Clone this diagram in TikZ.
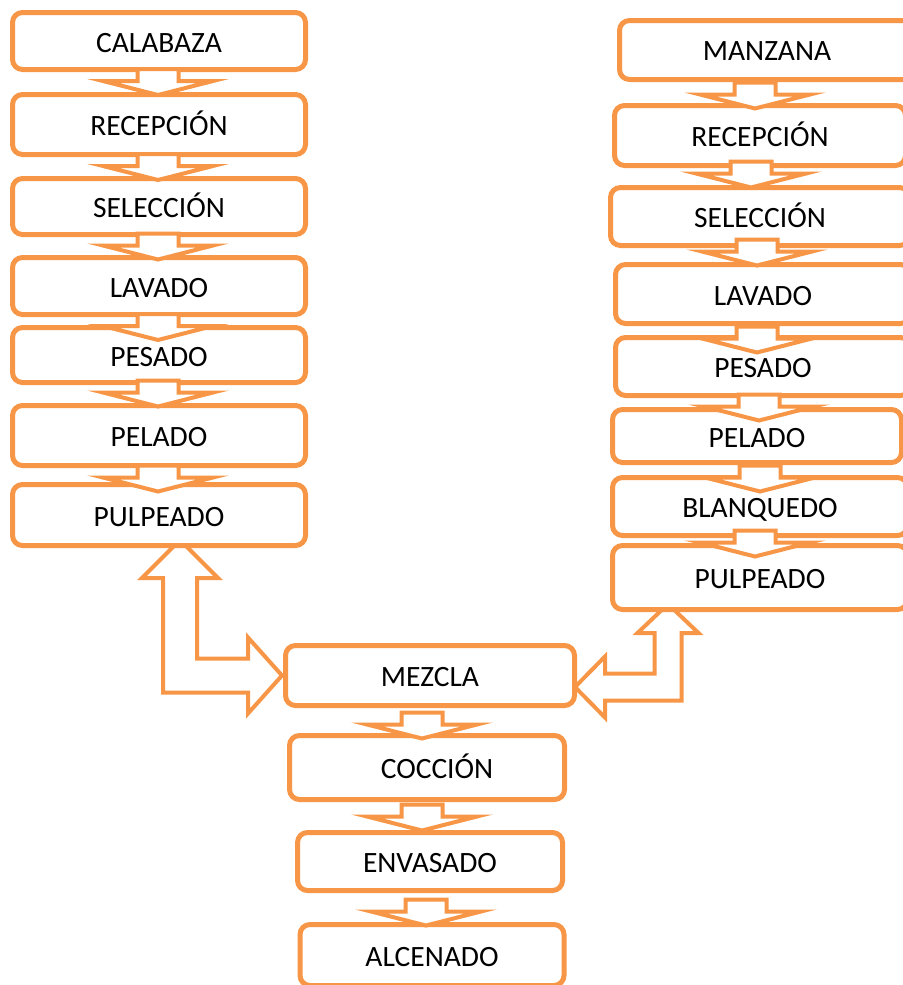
\documentclass[tikz,border=0pt]{standalone}
\usepackage{fontspec}
\setmainfont{Carlito}
\usetikzlibrary{calc}
\definecolor{naranja}{HTML}{F79646}

\begin{document}
\begin{tikzpicture}[x=0.5pt, y=-0.5pt,
    caja/.style={draw=naranja, line width=2.5pt, rounded corners=5pt, fill=white,
        inner sep=0pt, text height=11pt, text depth=0pt,
        font=\fontsize{14.75}{17}\selectfont},
    bloque/.style={draw=naranja, line width=2pt, fill=white, line join=miter}]

\useasboundingbox (0,0) rectangle (903,985);

% big double arrows to the mixing step
\coordinate (ta) at (180,540);
\coordinate (tb) at (282,675.5);
\draw[bloque] (ta) -- ++(38,38) -- ++(-21,0) -- ($(ta|-tb)+(17,-17)$)
    -- ($(tb)+(-34,-17)$) -- ++(0,-21) -- (tb) -- ++(-34,38) -- ++(0,-21)
    -- ($(ta|-tb)+(-17,17)$) -- ($(ta)+(-17,38)$) -- ++(-21,0) -- cycle;

\coordinate (tc) at (668,604);
\coordinate (td) at (575,687);
\draw[bloque] (tc) -- ++(30.5,29) -- ++(-17,0) -- ($(tc|-td)+(13.5,13.5)$)
    -- ($(td)+(30,13.5)$) -- ++(0,17) -- (td) -- ++(30,-30.5) -- ++(0,17)
    -- ($(tc|-td)+(-13.5,-13.5)$) -- ($(tc)+(-13.5,29)$) -- ++(-17,0) -- cycle;

% left column
\node[caja, minimum width=146.5pt, minimum height=28.5pt] (cal) at (159,41) {CALABAZA};
\node[caja, minimum width=146.5pt, minimum height=30pt] (rec1) at (159,124.5) {RECEPCIÓN};
\node[caja, minimum width=146.5pt, minimum height=28pt] (sel1) at (159,206.5) {SELECCIÓN};
\node[caja, minimum width=146.5pt, minimum height=28.5pt] (lav1) at (159,286) {LAVADO};
\node[caja, minimum width=146.5pt, minimum height=27.5pt] (pes1) at (159,355) {PESADO};
\node[caja, minimum width=146.5pt, minimum height=30pt] (pel1) at (159,435.5) {PELADO};
\node[caja, minimum width=146.5pt, minimum height=30.5pt] (pul1) at (159,515) {PULPEADO};

% right column
\node[caja, minimum width=147.5pt, minimum height=29.5pt] (man) at (767,50) {MANZANA};
\node[caja, minimum width=145.5pt, minimum height=30pt] (rec2) at (760,135.5) {RECEPCIÓN};
\node[caja, minimum width=149.5pt, minimum height=29pt] (sel2) at (760,216.5) {SELECCIÓN};
\node[caja, minimum width=147.5pt, minimum height=29.5pt] (lav2) at (763,294) {LAVADO};
\node[caja, minimum width=147.5pt, minimum height=29pt] (pes2) at (763,366.5) {PESADO};
\node[caja, minimum width=144.5pt, minimum height=26.5pt] (pel2) at (757,436) {PELADO};
\node[caja, minimum width=147.5pt, minimum height=29pt] (bla) at (760,506.5) {BLANQUEDO};
\node[caja, minimum width=147.5pt, minimum height=32pt] (pul2) at (760,577.5) {PULPEADO};

% middle column
\node[caja, minimum width=144.5pt, minimum height=30pt] (mez) at (430,675.5) {MEZCLA};
\node[caja, minimum width=137.5pt, minimum height=32pt] (coc) at (427,767.5) {\hspace{10pt}COCCIÓN};
\node[caja, minimum width=132.5pt, minimum height=29pt] (env) at (430,861.5) {ENVASADO};
\node[caja, minimum width=132pt, minimum height=30.5pt] (alc) at (432,955) {ALCENADO};

% small arrows between steps (dx, dy from the bottom of the upper box)
\foreach \a/\b/\d/\e in {cal/rec1/-1/-3, rec1/sel1/-1/-3, sel1/lav1/-1/-3.5,
        lav1/pes1/-1/-3, pes1/pel1/-1/-4.5, pel1/pul1/-1/-2.5,
        man/rec2/-12/0.5, rec2/sel2/-9/-6.5, sel2/lav2/-3/-8.5, lav2/pes2/-6/0.5,
        pes2/pel2/-4/-3.5, pel2/bla/3/0.5, bla/pul2/-5/-7.5,
        mez/coc/-8/4.5, coc/env/-5/2.5, env/alc/-4/6.5}
  \draw[bloque] let \p1=($(\a.south)+(\d,\e)$) in
      (\x1-10.25pt,\y1) -- (\x1+10.25pt,\y1) -- (\x1+10.25pt,\y1-6pt)
      -- (\x1+27.5pt,\y1-6pt) -- (\x1,\y1-13pt) -- (\x1-27.5pt,\y1-6pt)
      -- (\x1-10.25pt,\y1-6pt) -- cycle;

\end{tikzpicture}
\end{document}
